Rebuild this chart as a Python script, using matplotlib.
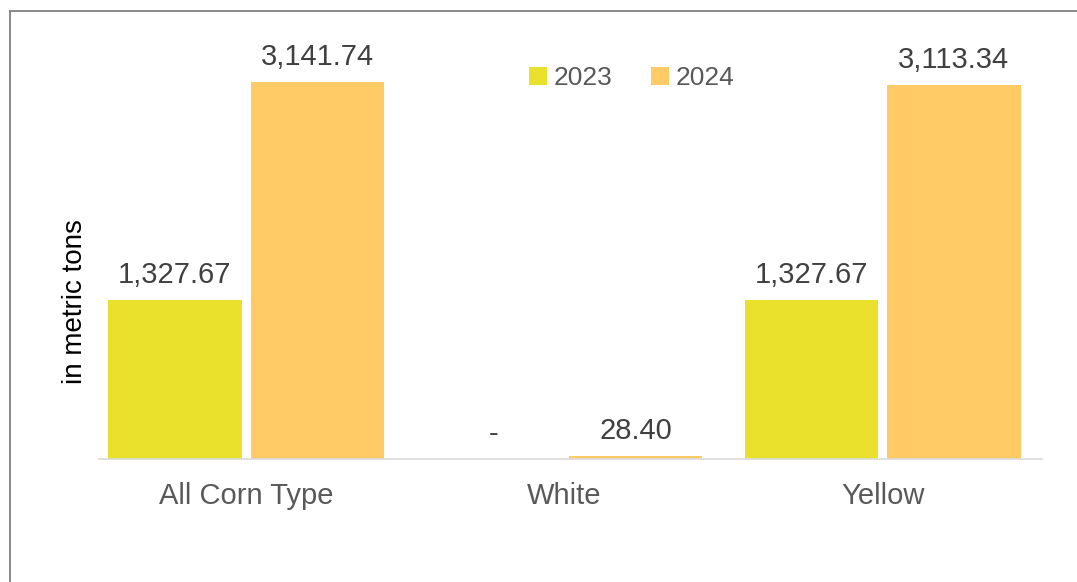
import matplotlib
matplotlib.use("Agg")
import matplotlib.pyplot as plt
from matplotlib.lines import Line2D
from matplotlib.patches import Patch
import numpy as np

plt.rcParams['font.family'] = ['Liberation Sans', 'DejaVu Sans']

categories = ["All Corn Type", "White", "Yellow"]
series_names = ["2023", "2024"]
values_2023 = [1327.67, 0.0, 1327.67]
values_2024 = [3141.74, 28.40, 3113.34]
ylabel = "in metric tons"

colors = ["#E9E12B", "#FFCB66"]

W, H = 1077, 582
fig = plt.figure(figsize=(W / 100, H / 100), dpi=100)
fig.patch.set_facecolor("white")

# axes placement in pixels
left_px, right_px, base_px, top_px = 99, 1042, 459, 30
ax = fig.add_axes([left_px / W, 1 - base_px / H, (right_px - left_px) / W, (base_px - top_px) / H])

x = np.arange(len(categories))
bw = 0.419
off = 0.224
b1 = ax.bar(x - off, values_2023, bw, color=colors[0], label=series_names[0], zorder=2)
b2 = ax.bar(x + off, values_2024, bw, color=colors[1], label=series_names[1], zorder=2)

ax.set_xlim(-0.4626, 2.501)
ax.set_ylim(0, 3575)

def fmt(v):
    return "-" if v == 0 else f"{v:,.2f}"

for bars, vals in ((b1, values_2023), (b2, values_2024)):
    for rect, v in zip(bars, vals):
        ax.annotate(fmt(v), (rect.get_x() + rect.get_width() / 2, rect.get_height()),
                    xytext=(0, 12.2), textcoords="offset points",
                    ha="center", va="baseline", fontsize=21, color="#404040")

for s in ("top", "right", "left"):
    ax.spines[s].set_visible(False)
ax.spines["bottom"].set_color("#D9D9D9")
ax.spines["bottom"].set_linewidth(1.2)
ax.set_yticks([])
ax.set_xticks(x)
ax.set_xticklabels(categories, fontsize=21, color="#595959")
ax.tick_params(axis="x", length=0, pad=16.5)

fig.text(75 / W, 1 - 302 / H, ylabel, rotation=90, ha="center", va="center",
         fontsize=20, color="black")

handles = [Patch(facecolor=c, edgecolor="none") for c in colors]
fig.legend(handles, series_names, loc="center", bbox_to_anchor=(632 / W, 1 - 78 / H),
           ncol=2, frameon=False, fontsize=19, labelcolor="#595959",
           handlelength=0.66, handleheight=0.66, handletextpad=0.28,
           columnspacing=1.45, borderpad=0, borderaxespad=0)

# outer border (left and top visible)
bx, by = 9.5, 10.5
fig.add_artist(Line2D([bx / W, bx / W], [-0.01, 1 - by / H], transform=fig.transFigure,
                      color="#808080", linewidth=1.3))
fig.add_artist(Line2D([bx / W, 1.01], [1 - by / H, 1 - by / H], transform=fig.transFigure,
                      color="#808080", linewidth=1.3))

fig.savefig("out.png", dpi=100)
